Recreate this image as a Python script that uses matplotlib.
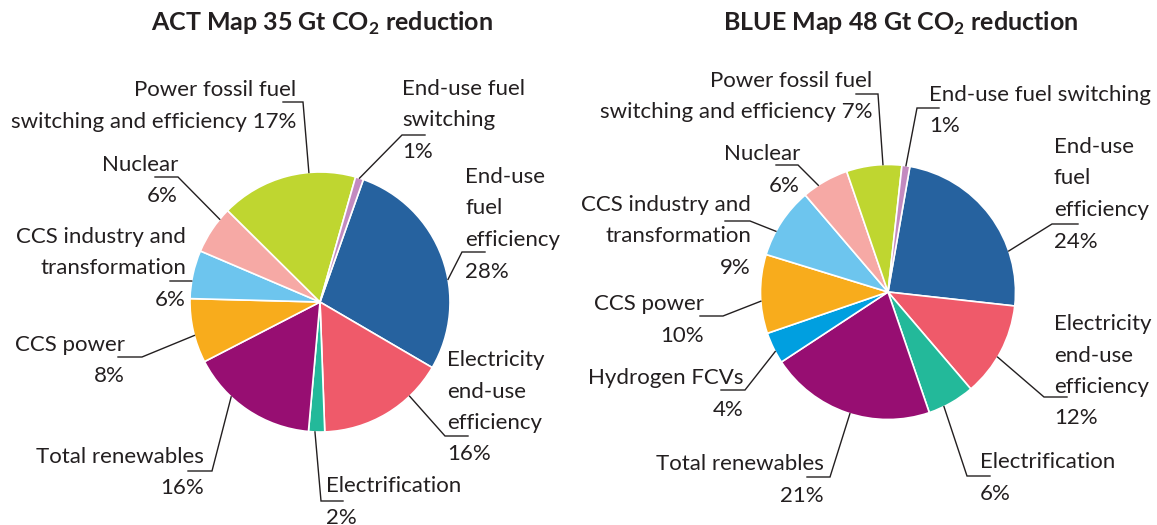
import numpy as np
import matplotlib.pyplot as plt

plt.rcParams['font.family'] = ['Lato', 'DejaVu Sans']
plt.rcParams['mathtext.fontset'] = 'custom'
plt.rcParams['mathtext.rm'] = 'Lato:bold'

W, H = 1157, 525

# ---- data ----
act_names = ["End-use fuel efficiency", "Electricity end-use efficiency", "Electrification",
             "Total renewables", "CCS power", "CCS industry and transformation", "Nuclear",
             "Power fossil fuel switching and efficiency", "End-use fuel switching"]
act_share = [28, 16, 2, 16, 8, 6, 6, 17, 1]

blue_names = ["End-use fuel efficiency", "Electricity end-use efficiency", "Electrification",
              "Total renewables", "Hydrogen FCVs", "CCS power", "CCS industry and transformation",
              "Nuclear", "Power fossil fuel switching and efficiency", "End-use fuel switching"]
blue_share = [24, 12, 6, 21, 4, 10, 9, 6, 7, 1]

colors = {
    "End-use fuel efficiency": "#26629f",
    "Electricity end-use efficiency": "#ef5a6a",
    "Electrification": "#23b99a",
    "Total renewables": "#970e72",
    "Hydrogen FCVs": "#009fe0",
    "CCS power": "#f8ac1c",
    "CCS industry and transformation": "#6dc5ee",
    "Nuclear": "#f6a9a5",
    "Power fossil fuel switching and efficiency": "#bfd630",
    "End-use fuel switching": "#c38ac0",
}

# ---- label layout (image pixel coords, y down) ----
# name: (text with {p}, x, first baseline, ha, horizontal start x, elbow x, elbow y, anchor fraction)
act_layout = {
    "End-use fuel efficiency": ("End-use\nfuel\nefficiency\n{p}", 465, 183, 'left', 485, 462, 252, 0.40),
    "Electricity end-use efficiency": ("Electricity\nend-use\nefficiency\n{p}", 447, 366, 'left', 468, 445, 436, 0.72),
    "Electrification": ("Electrification\n{p}", 326, 492, 'left', 343, 321, 501, 0.40),
    "Total renewables": ("Total renewables\n{p}", 204, 463, 'right', 188, 212, 471, 0.34),
    "CCS power": ("CCS power\n{p}", 125, 351, 'right', 118, 142, 357, 0.57),
    "CCS industry and transformation": ("CCS industry and\ntransformation\n{p}", 186, 243, 'right', 170, 191, 281, 0.64),
    "Nuclear": ("Nuclear\n{p}", 178, 171, 'right', 155, 178, 177, 0.24),
    "Power fossil fuel switching and efficiency": ("Power fossil fuel\nswitching and efficiency {p}", 296, 96, 'right', 283, 303, 102, 0.34),
    "End-use fuel switching": ("End-use fuel\nswitching\n{p}", 402, 95, 'left', 425, 402, 135, 0.5),
}
blue_layout = {
    "End-use fuel efficiency": ("End-use\nfuel\nefficiency\n{p}", 1054, 153, 'left', 1078, 1052, 224, 0.29),
    "Electricity end-use efficiency": ("Electricity\nend-use\nefficiency\n{p}", 1054, 330, 'left', 1067, 1044, 397, 0.435),
    "Electrification": ("Electrification\n{p}", 980, 468, 'left', 990, 967, 476, 0.33),
    "Total renewables": ("Total renewables\n{p}", 824, 470, 'right', 807, 830, 477, 0.52),
    "Hydrogen FCVs": ("Hydrogen FCVs\n{p}", 744, 384, 'right', 721, 745, 390, 0.62),
    "CCS power": ("CCS power\n{p}", 704, 310, 'right', 700, 723, 316, 0.59),
    "CCS industry and transformation": ("CCS industry and\ntransformation\n{p}", 751, 211, 'right', 725, 750, 221, 0.65),
    "Nuclear": ("Nuclear\n{p}", 800, 160, 'right', 776, 798, 165, 0.66),
    "Power fossil fuel switching and efficiency": ("Power fossil fuel\nswitching and efficiency {p}", 872, 87, 'right', 856, 878, 94, 0.34),
    "End-use fuel switching": ("End-use fuel switching\n{p}", 929, 101, 'left', 939, 917, 108, 0.5),
}

TEXT = "#231f20"
LINE_STEP = 31.5


def Y(y):
    return H - y


def draw_pie(ax, names, share, layout, center, radius, start, title, title_x):
    wedges, _ = ax.pie(share, colors=[colors[n] for n in names], startangle=start,
                       counterclock=False, center=(center[0], Y(center[1])), radius=radius,
                       wedgeprops=dict(edgecolor='white', linewidth=1.2))
    for w, name, v in zip(wedges, names, share):
        txt, tx, ty, ha, hx0, ex, ey, frac = layout[name]
        for i, line in enumerate(txt.format(p=f"{v}%").split("\n")):
            ax.text(tx, Y(ty + i * LINE_STEP), line, ha=ha, va='baseline',
                    fontsize=16, color=TEXT)
        ang = np.radians(w.theta1 + frac * (w.theta2 - w.theta1))
        px = center[0] + radius * np.cos(ang)
        py = Y(center[1]) + radius * np.sin(ang)
        ax.plot([hx0, ex, px], [Y(ey), Y(ey), py], color='#231f20', lw=1.0,
                solid_joinstyle='miter')
    ax.text(title_x, Y(31), title, ha='center', va='baseline', fontsize=18,
            fontweight='bold', color=TEXT)


fig = plt.figure(figsize=(W / 100, H / 100), dpi=100)
ax = fig.add_axes([0, 0, 1, 1])

draw_pie(ax, act_names, act_share, act_layout, (320, 302), 130, 70.5,
         r"ACT Map 35 Gt CO$_\mathrm{2}$ reduction", 322)
draw_pie(ax, blue_names, blue_share, blue_layout, (888, 292), 127.5, 80.1,
         r"BLUE Map 48 Gt CO$_\mathrm{2}$ reduction", 901)

ax.set_xlim(0, W)
ax.set_ylim(0, H)
ax.set_aspect('equal')
ax.axis('off')

fig.savefig("out.png", dpi=100, facecolor='white')
